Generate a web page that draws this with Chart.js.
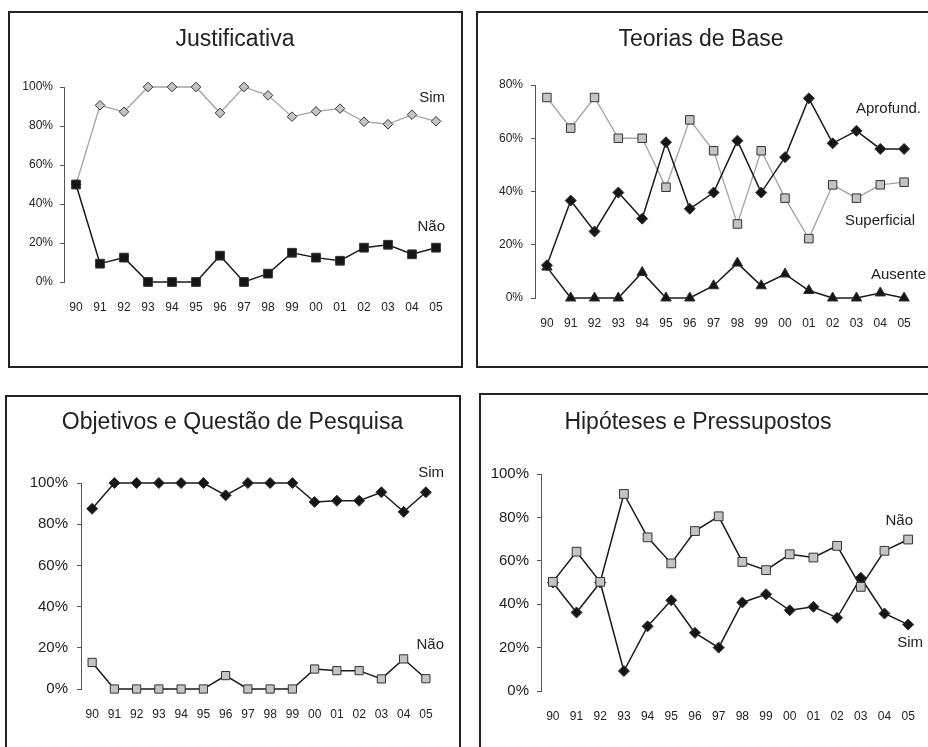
<!DOCTYPE html>
<html>
<head>
<meta charset="utf-8">
<script src="https://cdn.jsdelivr.net/npm/chart.js@4.4.1/dist/chart.umd.min.js"></script>
<style>
  html, body { margin: 0; padding: 0; background: #fff; width: 928px; height: 747px; overflow: hidden; }
  .box { position: absolute; border: 2px solid #222; box-sizing: border-box; }
  canvas { position: absolute; }
</style>
</head>
<body>
<div class="box" style="left:8px;top:11px;width:455px;height:357px"></div>
<div class="box" style="left:476px;top:11px;width:470px;height:357px"></div>
<div class="box" style="left:5px;top:395px;width:456px;height:400px"></div>
<div class="box" style="left:479px;top:393px;width:470px;height:400px"></div>

<canvas id="justificativa" width="442" height="353" style="left:18px;top:13px"></canvas>
<canvas id="teorias" width="446" height="353" style="left:482px;top:13px"></canvas>
<canvas id="objetivos" width="431" height="349" style="left:18px;top:398px"></canvas>
<canvas id="hipoteses" width="460" height="351" style="left:472px;top:396px"></canvas>

<script>
// anos (eixo x)
const years = ['90', '91', '92', '93', '94', '95', '96', '97', '98', '99', '00', '01', '02', '03', '04', '05'];

// Justificativa
const justSim = [50, 90.6, 87.3, 100, 100, 100, 86.7, 100, 95.7, 84.8, 87.5, 88.9, 82.2, 80.9, 85.8, 82.4];
const justNao = [50, 9.4, 12.5, 0, 0, 0, 13.5, 0, 4.3, 15, 12.5, 10.9, 17.6, 19.1, 14.2, 17.6];

// Teorias de Base
const teoAprof = [12.3, 36.6, 25, 39.6, 29.8, 58.5, 33.5, 39.6, 59.1, 39.6, 52.9, 75, 58.1, 62.8, 56, 56];
const teoSuperf = [75.3, 63.8, 75.3, 60, 60, 41.6, 66.9, 55.3, 27.8, 55.3, 37.5, 22.3, 42.5, 37.5, 42.5, 43.5];
const teoAusente = [11.6, 0, 0, 0, 9.6, 0, 0, 4.6, 13.1, 4.6, 9, 2.8, 0, 0, 1.9, 0];

// Objetivos e Questão de Pesquisa
const objSim = [87.5, 100, 100, 100, 100, 100, 94, 100, 100, 100, 90.8, 91.4, 91.4, 95.5, 86, 95.5];
const objNao = [12.9, 0, 0, 0, 0, 0, 6.5, 0, 0, 0, 9.7, 8.9, 8.9, 4.9, 14.6, 5];

// Hipóteses e Pressupostos
const hipNao = [50.3, 64.2, 50.3, 90.8, 70.8, 58.8, 73.7, 80.5, 59.5, 55.7, 63, 61.5, 66.9, 48, 64.6, 69.8];
const hipSim = [50, 36.2, 50, 9.2, 29.8, 41.8, 26.8, 20, 40.8, 44.6, 37.2, 38.8, 33.7, 52.2, 35.7, 30.6];

const GRAY = '#c4c4c4';
const BLACK = '#151515';
const GRAY_LINE = '#a3a3a3';
const BLACK_LINE = '#1a1a1a';

Chart.defaults.font.family = '"Liberation Sans", Arial, Helvetica, sans-serif';
Chart.defaults.color = '#222';

// series names written next to the lines
const seriesTags = {
  id: 'seriesTags',
  afterDatasetsDraw(chart, args, opts) {
    const { ctx, chartArea, scales: { y } } = chart;
    ctx.save();
    ctx.font = '15px "Liberation Sans", Arial, sans-serif';
    ctx.fillStyle = '#222';
    ctx.textAlign = 'right';
    ctx.textBaseline = 'middle';
    (opts.items || []).forEach(t => {
      ctx.fillText(chart.data.datasets[t.ds].label, chartArea.right + t.dx, y.getPixelForValue(t.at));
    });
    ctx.restore();
  }
};

function series(label, data, line, fill, style, radius, width) {
  return {
    label, data,
    borderColor: line, borderWidth: width, backgroundColor: fill,
    pointStyle: style, pointRadius: radius, pointHoverRadius: radius,
    pointBackgroundColor: fill, pointBorderColor: '#333', pointBorderWidth: 1,
    tension: 0, fill: false, clip: false
  };
}

function drawPanel(id, o) {
  new Chart(document.getElementById(id), {
    type: 'line',
    data: { labels: years, datasets: o.datasets },
    options: {
      responsive: false,
      animation: false,
      events: [],
      layout: { padding: o.pad },
      scales: {
        x: {
          offset: true,
          grid: { display: false },
          border: { display: false },
          ticks: { autoSkip: false, maxRotation: 0, padding: 10, font: { size: 12 } },
          afterFit(s) { s.height = 40; }
        },
        y: {
          min: 0,
          max: o.yMax,
          grid: { drawOnChartArea: false, drawTicks: true, tickLength: 4, color: '#555' },
          border: { display: true, color: '#555', width: 1 },
          ticks: { stepSize: 20, padding: o.yPad, font: { size: o.yFont }, callback: v => v + '%' },
          afterFit(s) { s.width = o.yW; }
        }
      },
      plugins: {
        legend: { display: false },
        tooltip: { enabled: false },
        title: {
          display: true,
          text: o.title,
          color: '#222',
          font: { size: 23, weight: 'normal' },
          padding: o.titlePad
        },
        seriesTags: { items: o.tags }
      }
    },
    plugins: [seriesTags]
  });
}

drawPanel('justificativa', {
  title: 'Justificativa',
  yMax: 100, yFont: 12, yPad: 7, yW: 42,
  pad: { left: 4, right: 12, top: 0, bottom: 44 },
  titlePad: { top: 13.2, bottom: 33.2 },
  datasets: [
    series('Não', justNao, BLACK_LINE, BLACK, 'rect', 6.2, 1.5),
    series('Sim', justSim, GRAY_LINE, GRAY, 'rectRot', 4.8, 1.3)
  ],
  tags: [{ ds: 1, dx: -3, at: 94.4 }, { ds: 0, dx: -3, at: 28.2 }]
});

drawPanel('teorias', {
  title: 'Teorias de Base',
  yMax: 80, yFont: 12, yPad: 8, yW: 49,
  pad: { left: 4, right: 12, top: 0, bottom: 28 },
  titlePad: { top: 13.2, bottom: 31.2 },
  datasets: [
    series('Aprofund.', teoAprof, BLACK_LINE, BLACK, 'rectRot', 5.5, 1.5),
    series('Superficial', teoSuperf, GRAY_LINE, GRAY, 'rect', 6, 1.3),
    series('Ausente', teoAusente, BLACK_LINE, BLACK, 'triangle', 6, 1.5)
  ],
  tags: [{ ds: 0, dx: 5, at: 71 }, { ds: 1, dx: -1, at: 28.9 }, { ds: 2, dx: 10, at: 8.6 }]
});

drawPanel('objetivos', {
  title: 'Objetivos e Questão de Pesquisa',
  yMax: 100, yFont: 15, yPad: 9, yW: 53,
  pad: { left: 10, right: 12, top: 0, bottom: 18 },
  titlePad: { top: 11.2, bottom: 46.2 },
  datasets: [
    series('Sim', objSim, BLACK_LINE, BLACK, 'rectRot', 5.5, 1.5),
    series('Não', objNao, BLACK_LINE, GRAY, 'rect', 5.8, 1.5)
  ],
  tags: [{ ds: 0, dx: 7, at: 104.9 }, { ds: 1, dx: 7, at: 21.4 }]
});

drawPanel('hipoteses', {
  title: 'Hipóteses e Pressupostos',
  yMax: 100, yFont: 15, yPad: 8, yW: 65,
  pad: { left: 4, right: 12, top: 0, bottom: 16 },
  titlePad: { top: 13.2, bottom: 37.2 },
  datasets: [
    series('Não', hipNao, BLACK_LINE, GRAY, 'rect', 6.2, 1.5),
    series('Sim', hipSim, BLACK_LINE, BLACK, 'rectRot', 5.5, 1.5)
  ],
  tags: [{ ds: 0, dx: -7, at: 78.3 }, { ds: 1, dx: 3, at: 22.1 }]
});
</script>
</body>
</html>
